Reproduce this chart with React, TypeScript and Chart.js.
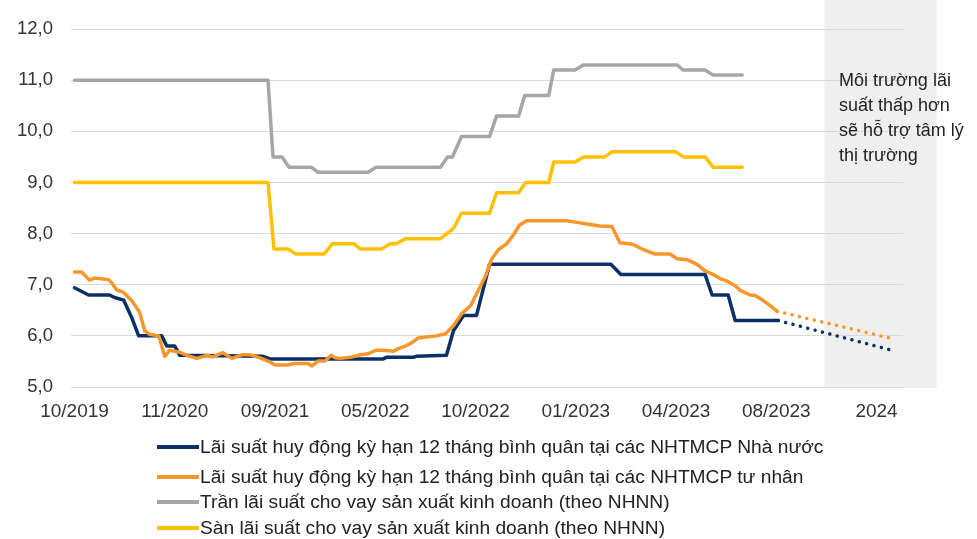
import React, { useEffect, useRef } from 'react';
import { Chart, registerables } from 'chart.js';

Chart.register(...registerables);

// ---- Data ----
const xTickLabels = ['10/2019', '11/2020', '09/2021', '05/2022', '10/2022', '01/2023', '04/2023', '08/2023', '2024'];
const xTickPositions = [0, 10, 20, 30, 40, 50, 60, 70, 80];

const seriesNames = [
  'Lãi suất huy động kỳ hạn 12 tháng bình quân tại các NHTMCP Nhà nước',
  'Lãi suất huy động kỳ hạn 12 tháng bình quân tại các NHTMCP tư nhân',
  'Trần lãi suất cho vay sản xuất kinh doanh (theo NHNN)',
  'Sàn lãi suất cho vay sản xuất kinh doanh (theo NHNN)',
];

// State-owned banks deposit rate
const stateX = [0, 1.4, 3.5, 4.0, 4.9, 5.7, 6.4, 8.7, 9.2, 10.0, 10.5, 18.8, 19.5, 30.8, 31.1, 33.8, 34.1, 37.1, 37.8, 38.8, 40.1, 41.4, 53.5, 54.5, 62.9, 63.6, 65.2, 65.9, 70.2];
const stateY = [6.94, 6.8, 6.8, 6.75, 6.7, 6.36, 6.0, 6.0, 5.8, 5.8, 5.62, 5.6, 5.55, 5.55, 5.58, 5.58, 5.6, 5.62, 6.1, 6.4, 6.4, 7.4, 7.4, 7.2, 7.2, 6.8, 6.8, 6.3, 6.3];
const stateProjX = [70.2, 81.5];
const stateProjY = [6.3, 5.72];

// Private banks deposit rate
const privateX = [0, 0.7, 1.5, 2.0, 3.4, 3.7, 4.2, 4.9, 5.7, 6.5, 7.0, 7.5, 8.4, 9.0, 9.5, 10.5, 11.2, 12.2, 13.2, 13.8, 14.8, 15.7, 16.7, 17.5, 18.5, 19.5, 20.0, 21.2, 22.0, 23.3, 23.7, 24.3, 25.0, 25.6, 26.0, 26.5, 27.5, 28.5, 29.3, 30.1, 30.8, 31.8, 32.3, 33.1, 33.6, 34.3, 35.1, 36.1, 37.0, 37.8, 38.6, 39.5, 40.1, 41.0, 41.6, 42.3, 43.1, 43.8, 44.4, 45.1, 49.1, 50.1, 51.1, 52.4, 53.6, 54.4, 55.7, 56.7, 57.9, 59.4, 60.1, 61.1, 62.1, 62.9, 63.7, 64.4, 65.1, 65.9, 66.4, 67.4, 67.9, 68.7, 69.4, 70.1];
const privateY = [7.25, 7.25, 7.09, 7.13, 7.1, 7.04, 6.9, 6.85, 6.69, 6.46, 6.1, 6.03, 6.0, 5.6, 5.72, 5.68, 5.62, 5.56, 5.62, 5.59, 5.67, 5.56, 5.63, 5.63, 5.57, 5.49, 5.43, 5.43, 5.46, 5.46, 5.41, 5.51, 5.51, 5.62, 5.57, 5.56, 5.58, 5.63, 5.65, 5.72, 5.72, 5.7, 5.75, 5.81, 5.86, 5.96, 5.98, 6.0, 6.04, 6.2, 6.43, 6.59, 6.82, 7.17, 7.5, 7.69, 7.8, 7.98, 8.17, 8.25, 8.25, 8.22, 8.19, 8.15, 8.14, 7.82, 7.79, 7.69, 7.6, 7.6, 7.51, 7.49, 7.4, 7.27, 7.2, 7.12, 7.07, 6.98, 6.89, 6.8, 6.79, 6.69, 6.59, 6.48];
const privateProjX = [70.1, 81.5];
const privateProjY = [6.48, 5.95];

// Lending rate ceiling (SBV)
const ceilingX = [0, 19.3, 19.8, 20.7, 21.4, 23.6, 24.3, 29.3, 30.1, 36.5, 37.2, 37.7, 38.6, 41.4, 42.1, 44.3, 44.9, 47.3, 47.8, 49.9, 50.8, 60.1, 60.7, 62.9, 63.7, 66.6];
const ceilingY = [11.0, 11.0, 9.5, 9.5, 9.3, 9.3, 9.2, 9.2, 9.3, 9.3, 9.5, 9.5, 9.9, 9.9, 10.3, 10.3, 10.7, 10.7, 11.2, 11.2, 11.3, 11.3, 11.2, 11.2, 11.1, 11.1];

// Lending rate floor (SBV)
const floorX = [0, 19.3, 19.9, 21.3, 22.1, 24.9, 25.7, 27.9, 28.5, 30.6, 31.5, 32.1, 33.0, 36.5, 37.8, 38.6, 41.4, 42.1, 44.3, 45.0, 47.3, 47.8, 49.9, 50.8, 52.9, 53.6, 60.0, 60.7, 62.9, 63.7, 66.6];
const floorY = [9.0, 9.0, 7.7, 7.7, 7.6, 7.6, 7.8, 7.8, 7.7, 7.7, 7.8, 7.8, 7.9, 7.9, 8.1, 8.4, 8.4, 8.8, 8.8, 9.0, 9.0, 9.4, 9.4, 9.5, 9.5, 9.6, 9.6, 9.5, 9.5, 9.3, 9.3];

const forecastBand = [74.8, 86];
const annotationLines = ['Môi trường lãi', 'suất thấp hơn', 'sẽ hỗ trợ tâm lý', 'thị trường'];

// ---- Styles ----
const NAVY = '#0b2f66';
const ORANGE = '#f7962b';
const GRAY = '#a6a6a6';
const YELLOW = '#ffc000';
const seriesColors = [NAVY, ORANGE, GRAY, YELLOW];
const FONT = '"Liberation Sans", Arial, sans-serif';

const toPoints = (xs: number[], ys: number[]) => xs.map((x, i) => ({ x, y: ys[i] }));

const shadePlugin = {
  id: 'forecastShade',
  beforeDraw(chart: any) {
    const { ctx, scales } = chart;
    const xs = scales.x;
    const ys = scales.y;
    const x0 = xs.getPixelForValue(forecastBand[0]);
    const x1 = xs.getPixelForValue(forecastBand[1]);
    const yb = ys.getPixelForValue(5);
    ctx.save();
    ctx.fillStyle = '#efefef';
    ctx.fillRect(x0, 0, x1 - x0, yb + 1);
    ctx.restore();
  },
};

export default function App() {
  const ref = useRef<HTMLCanvasElement | null>(null);

  useEffect(() => {
    document.body.style.margin = '0';
    const canvas = ref.current;
    if (!canvas) return;
    const solid = (data: any, color: string) => ({
      data,
      borderColor: color,
      backgroundColor: color,
      borderWidth: 3.5,
      pointRadius: 0,
      tension: 0,
      borderCapStyle: 'round',
      borderJoinStyle: 'round',
      fill: false,
    });
    const dotted = (data: any, color: string) => ({
      ...solid(data, color),
      borderDash: [0.01, 7.6],
    });
    const chart = new Chart(canvas, {
      type: 'line',
      data: {
        datasets: [
          { label: seriesNames[1], ...solid(toPoints(privateX, privateY), ORANGE) },
          { label: seriesNames[1] + ' (dự báo)', ...dotted(toPoints(privateProjX, privateProjY), ORANGE) },
          { label: seriesNames[0], ...solid(toPoints(stateX, stateY), NAVY) },
          { label: seriesNames[0] + ' (dự báo)', ...dotted(toPoints(stateProjX, stateProjY), NAVY) },
          { label: seriesNames[2], ...solid(toPoints(ceilingX, ceilingY), GRAY) },
          { label: seriesNames[3], ...solid(toPoints(floorX, floorY), YELLOW) },
        ] as any,
      },
      options: {
        animation: false,
        responsive: false,
        maintainAspectRatio: false,
        layout: { padding: { top: 26, right: 74, bottom: 112, left: 0 } },
        plugins: { legend: { display: false }, tooltip: { enabled: false } },
        scales: {
          x: {
            type: 'linear',
            min: -0.35,
            max: 82.64,
            grid: { display: false },
            border: { display: false },
            afterBuildTicks: (axis: any) => {
              axis.ticks = xTickPositions.map((v) => ({ value: v }));
            },
            afterFit: (axis: any) => {
              axis.height = 40;
            },
            ticks: {
              autoSkip: false,
              maxRotation: 0,
              padding: 5,
              color: '#333333',
              font: { family: FONT, size: 19 },
              callback: (v: any) => {
                const i = xTickPositions.indexOf(Number(v));
                return i >= 0 ? xTickLabels[i] : '';
              },
            },
          },
          y: {
            min: 5,
            max: 12,
            grid: { color: '#d9d9d9', lineWidth: 1, drawTicks: false },
            border: { display: false },
            afterFit: (axis: any) => {
              axis.width = 71;
            },
            ticks: {
              stepSize: 1,
              padding: 18,
              color: '#333333',
              font: { family: FONT, size: 18.5 },
              callback: (v: any) => Number(v).toFixed(1).replace('.', ','),
            },
          },
        },
      },
      plugins: [shadePlugin],
    });
    return () => chart.destroy();
  }, []);

  const legendCenters = [447, 477, 502, 528];
  const legendOrder = [0, 1, 2, 3];

  return (
    <div style={{ position: 'relative', width: 977, height: 539, overflow: 'hidden', background: '#fff' }}>
      <canvas ref={ref} width={977} height={539} style={{ position: 'absolute', left: 0, top: 0, width: 977, height: 539 }} />
      <div
        style={{
          position: 'absolute',
          left: 839,
          top: 68,
          font: `18px ${FONT}`,
          lineHeight: '25px',
          color: '#222',
          whiteSpace: 'nowrap',
        }}
      >
        {annotationLines.map((t, i) => (
          <div key={i}>{t}</div>
        ))}
      </div>
      {legendOrder.map((idx, row) => (
        <div
          key={idx}
          style={{
            position: 'absolute',
            left: 157,
            top: legendCenters[row] - 13,
            height: 26,
            display: 'flex',
            alignItems: 'center',
            font: `19.2px ${FONT}`,
            color: '#222',
            whiteSpace: 'nowrap',
          }}
        >
          <span style={{ display: 'inline-block', width: 42, height: 4, background: seriesColors[idx], marginRight: 1 }} />
          <span>{seriesNames[idx]}</span>
        </div>
      ))}
    </div>
  );
}
